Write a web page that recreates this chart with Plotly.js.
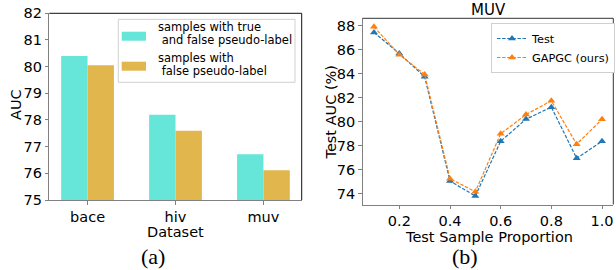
<!DOCTYPE html>
<html>
<head>
<meta charset="utf-8">
<script src="https://cdn.plot.ly/plotly-3.0.1.min.js"></script>
<style>html,body{margin:0;padding:0;background:#fff;}#chart{width:616px;height:270px;}</style>
</head>
<body>
<div id="chart"></div>
<script>
// ---- Data: panel (a) ----
var datasets = ['bace', 'hiv', 'muv'];
var aucTrueFalse = [80.40, 78.20, 76.72];
var aucFalseOnly = [80.05, 77.60, 76.12];
var legendTrueFalse = ['samples with true', '\u00a0and false pseudo-label'];
var legendFalseOnly = ['samples with', '\u00a0false pseudo-label'];

// ---- Data: panel (b) ----
var proportions = [0.1, 0.2, 0.3, 0.4, 0.5, 0.6, 0.7, 0.8, 0.9, 1.0];
var testAUC  = [87.45, 85.70, 83.75, 75.05, 73.80, 78.37, 80.22, 81.22, 76.95, 78.37];
var gapgcAUC = [87.93, 85.60, 83.95, 75.25, 74.15, 79.00, 80.60, 81.75, 78.13, 80.20];

var FONT = 'DejaVu Sans, sans-serif';
var W = 616, H = 270;
function px(x) { return x / W; }
function py(y) { return 1 - y / H; }

var colTrueFalse = '#66E6D9', colFalseOnly = '#E1B74D';

var traces = [
  {type: 'bar', x: datasets, y: aucTrueFalse, name: legendTrueFalse.join(' '),
   marker: {color: colTrueFalse}, xaxis: 'x', yaxis: 'y', showlegend: false},
  {type: 'bar', x: datasets, y: aucFalseOnly, name: legendFalseOnly.join(' '),
   marker: {color: colFalseOnly}, xaxis: 'x', yaxis: 'y', showlegend: false},
  {type: 'scatter', mode: 'lines+markers', x: proportions, y: testAUC, name: 'Test',
   line: {color: '#1f77b4', width: 1.2, dash: '3.5px,1.6px'},
   marker: {symbol: 'triangle-up', size: 7, color: '#1f77b4'},
   xaxis: 'x2', yaxis: 'y2'},
  {type: 'scatter', mode: 'lines+markers', x: proportions, y: gapgcAUC, name: 'GAPGC (ours)',
   line: {color: '#ff7f0e', width: 1.2, dash: '3.5px,1.6px'},
   marker: {symbol: 'triangle-up', size: 7, color: '#ff7f0e'},
   xaxis: 'x2', yaxis: 'y2'}
];

var spineGrey = '#808080';
var axCommon = {
  showgrid: false, zeroline: false, showline: true, linecolor: spineGrey, linewidth: 1,
  ticks: 'outside', ticklen: 3.5, tickwidth: 1, tickcolor: spineGrey,
  tickfont: {family: FONT, size: 14.5, color: '#000'}
};
function ax(extra) { return Object.assign({}, axCommon, extra); }

var aL = 49.3, aR = 301.7, aT = 13.3, aB = 200;
var bL = 362.7, bR = 613.3, bT = 18.3, bB = 204.5;

function txt(text, x, y, size, extra) {
  return Object.assign({text: text, xref: 'paper', yref: 'paper', x: px(x), y: py(y),
    xanchor: 'center', yanchor: 'middle', showarrow: false,
    font: {family: FONT, size: size, color: '#000'}}, extra || {});
}

var legA = {L: 118.3, R: 295, T: 19.3, B: 82.3, textX: 155.7};

var layout = {
  width: W, height: H,
  margin: {l: 0, r: 0, t: 0, b: 0},
  paper_bgcolor: '#fff', plot_bgcolor: '#fff',
  font: {family: FONT, color: '#000'},
  barmode: 'group', bargap: 0.4, bargroupgap: 0,
  showlegend: true,
  xaxis: ax({domain: [px(aL), px(aR)], anchor: 'y', type: 'category', range: [-0.435, 2.435]}),
  yaxis: ax({domain: [py(aB), py(aT)], anchor: 'x', range: [75, 82], dtick: 1}),
  xaxis2: ax({domain: [px(bL), px(bR)], anchor: 'y2', range: [0.0554, 1.0446],
              tick0: 0, dtick: 0.2, tickformat: '.1f'}),
  yaxis2: ax({domain: [py(bB), py(bT)], anchor: 'x2', range: [73.09, 88.64], dtick: 2}),
  legend: {x: px(491), y: py(23), xanchor: 'left', yanchor: 'top',
           bgcolor: '#fff', bordercolor: '#d0d0d0', borderwidth: 1,
           font: {family: FONT, size: 11.3, color: '#000'}, tracegroupgap: 0},
  shapes: [
    {type: 'line', xref: 'paper', yref: 'paper', x0: px(aL), x1: px(aR), y0: py(aT), y1: py(aT), line: {color: '#111', width: 1}},
    {type: 'line', xref: 'paper', yref: 'paper', x0: px(aR), x1: px(aR), y0: py(aT), y1: py(aB), line: {color: '#111', width: 1}},
    {type: 'line', xref: 'paper', yref: 'paper', x0: px(bL), x1: px(bR), y0: py(bT), y1: py(bT), line: {color: '#333', width: 1}},
    {type: 'line', xref: 'paper', yref: 'paper', x0: px(bR), x1: px(bR), y0: py(bT), y1: py(bB), line: {color: '#333', width: 1}},
    // legend (a) frame and swatches
    {type: 'rect', xref: 'paper', yref: 'paper', x0: px(legA.L), x1: px(legA.R), y0: py(legA.B), y1: py(legA.T),
     fillcolor: 'rgba(255,255,255,0.85)', line: {color: '#d0d0d0', width: 1}},
    {type: 'rect', xref: 'paper', yref: 'paper', x0: px(121.7), x1: px(146), y0: py(40.7), y1: py(31.7),
     fillcolor: colTrueFalse, line: {width: 0}},
    {type: 'rect', xref: 'paper', yref: 'paper', x0: px(121.7), x1: px(146), y0: py(70.7), y1: py(61.7),
     fillcolor: colFalseOnly, line: {width: 0}}
  ],
  annotations: [
    txt('MUV', (bL + bR) / 2, 10, 15),
    txt('AUC', 16, 105, 14.5, {textangle: -90}),
    txt('Dataset', 175.4, 231.5, 14.5),
    txt('Test AUC (%)', 330, 112.5, 14.5, {textangle: -90}),
    txt('Test Sample Proportion', 488.8, 236.5, 14.5),
    txt(legendTrueFalse[0], legA.textX, 26.7, 11.5, {xanchor: 'left'}),
    txt(legendTrueFalse[1], legA.textX, 40.2, 11.5, {xanchor: 'left'}),
    txt(legendFalseOnly[0], legA.textX, 57.7, 11.5, {xanchor: 'left'}),
    txt(legendFalseOnly[1], legA.textX, 71.2, 11.5, {xanchor: 'left'}),
    txt('(a)', 153, 256, 22, {font: {family: 'Liberation Serif, serif', size: 22, color: '#000'}}),
    txt('(b)', 465, 256, 22, {font: {family: 'Liberation Serif, serif', size: 22, color: '#000'}})
  ]
};

Plotly.newPlot('chart', traces, layout, {displayModeBar: false, staticPlot: true});
</script>
</body>
</html>
